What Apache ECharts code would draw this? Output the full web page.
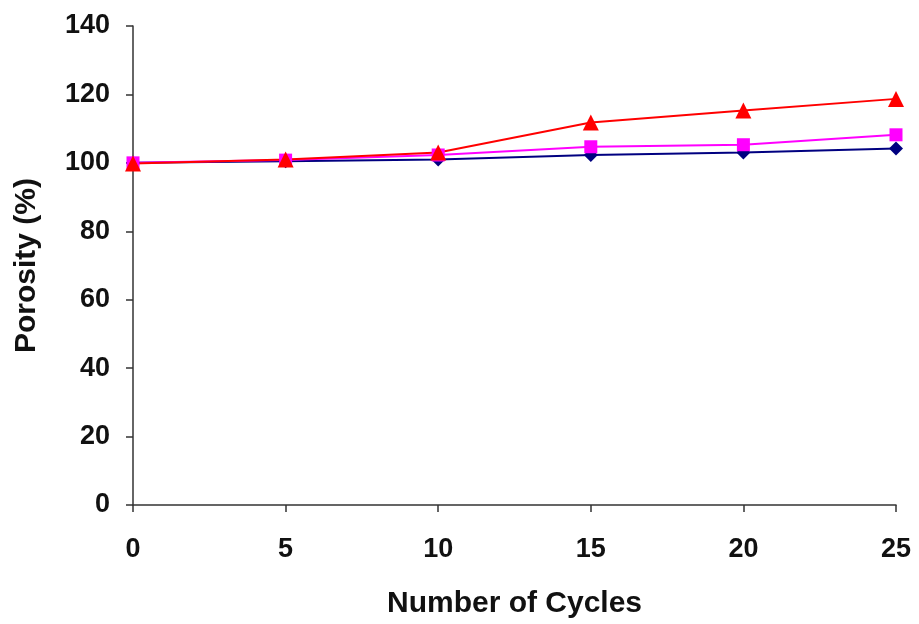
<!DOCTYPE html>
<html>
<head>
<meta charset="utf-8">
<script src="https://cdn.jsdelivr.net/npm/echarts@6/dist/echarts.min.js"></script>
<style>html,body{margin:0;padding:0;background:#fff;}#c{width:919px;height:624px;}</style>
</head>
<body>
<div id="c"></div>
<script>
const cycles = [0, 5, 10, 15, 20, 25];
const seriesBlue = [100, 100.5, 101, 102.3, 103, 104.2];
const seriesMagenta = [100, 100.8, 102.3, 104.7, 105.3, 108.2];
const seriesRed = [99.8, 101, 103, 111.8, 115.3, 118.7];
const xTicks = [0, 5, 10, 15, 20, 25];
const yTicks = [0, 20, 40, 60, 80, 100, 120, 140];

const pairs = v => cycles.map((c, i) => [c, v[i]]);
const font = 'Liberation Sans, Arial, sans-serif';
const chart = echarts.init(document.getElementById('c'));
chart.setOption({
  animation: false,
  backgroundColor: '#fff',
  grid: { left: 133, right: 23, top: 26, bottom: 119, containLabel: false },
  xAxis: {
    type: 'value', min: xTicks[0], max: xTicks[xTicks.length - 1], interval: 5,
    name: 'Number of Cycles', nameLocation: 'middle', nameGap: 84,
    nameTextStyle: { fontFamily: font, fontWeight: 'bold', fontSize: 30, color: '#111' },
    axisLine: { lineStyle: { color: '#333', width: 1.5 } },
    axisTick: { show: true, inside: false, length: 7, lineStyle: { color: '#333', width: 1.5 } },
    axisLabel: { fontFamily: font, fontWeight: 'bold', fontSize: 27, color: '#111', margin: 31 },
    splitLine: { show: false }
  },
  yAxis: {
    type: 'value', min: yTicks[0], max: yTicks[yTicks.length - 1], interval: 20,
    name: 'Porosity (%)', nameLocation: 'middle', nameGap: 91, nameRotate: 90,
    nameTextStyle: { fontFamily: font, fontWeight: 'bold', fontSize: 30, color: '#111' },
    axisLine: { show: true, lineStyle: { color: '#333', width: 1.5 } },
    axisTick: { show: true, inside: false, length: 7, lineStyle: { color: '#333', width: 1.5 } },
    axisLabel: { fontFamily: font, fontWeight: 'bold', fontSize: 27, color: '#111', margin: 23 },
    splitLine: { show: false }
  },
  series: [
    { type: 'line', data: pairs(seriesBlue), symbol: 'diamond', symbolSize: 14,
      lineStyle: { color: '#000080', width: 2 }, itemStyle: { color: '#000080' } },
    { type: 'line', data: pairs(seriesMagenta), symbol: 'rect', symbolSize: 13,
      lineStyle: { color: '#ff00ff', width: 2 }, itemStyle: { color: '#ff00ff' } },
    { type: 'line', data: pairs(seriesRed), symbol: 'triangle', symbolSize: 16,
      lineStyle: { color: '#ff0000', width: 2 }, itemStyle: { color: '#ff0000' } }
  ]
});
</script>
</body>
</html>
